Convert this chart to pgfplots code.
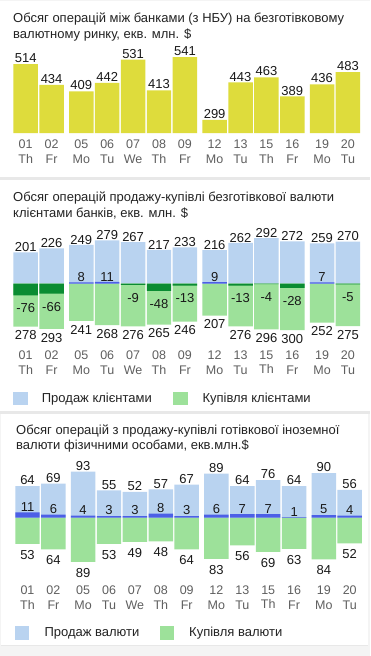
\documentclass[border=0pt]{standalone}
\usepackage{fontspec}
\setmainfont{Liberation Sans}
\usepackage{pgfplots}
\usepackage{pgfplotstable}
\pgfplotsset{compat=1.18}

\definecolor{bgcol}{RGB}{244,244,244}
\definecolor{sepcol}{RGB}{232,232,232}
\definecolor{ybar}{RGB}{222,220,60}
\definecolor{lblue}{RGB}{185,211,240}
\definecolor{lgreen}{RGB}{157,225,154}
\definecolor{dgreen}{RGB}{10,140,50}
\definecolor{dblue}{RGB}{76,95,230}
\definecolor{tickgray}{RGB}{95,95,95}
\definecolor{numcol}{RGB}{25,25,25}

\pgfplotstableread{
x v
0 514
1 434
2.147 409
3.147 442
4.147 531
5.147 413
6.147 541
7.294 299
8.294 443
9.294 463
10.294 389
11.441 436
12.441 483
}\tA

\pgfplotstableread{
x sell buy
0 201 278
1 226 293
2.147 249 241
3.147 279 268
4.147 267 276
5.147 217 265
6.147 233 246
7.294 216 207
8.294 262 276
9.294 292 296
10.294 272 300
11.441 259 252
12.441 270 275
}\tB

\pgfplotstableread{
x net
2.147 8
3.147 11
7.294 9
11.441 7
}\tBpos

\pgfplotstableread{
x net
0 -76
1 -66
4.147 -9
5.147 -48
6.147 -13
8.294 -13
9.294 -4
10.294 -28
12.441 -5
}\tBneg

\pgfplotstableread{
x sell buy net
0 64 53 11
1 69 64 6
2.147 93 89 4
3.147 55 53 3
4.147 52 49 3
5.147 57 48 8
6.147 67 64 3
7.294 89 83 6
8.294 64 56 7
9.294 76 69 7
10.294 64 63 1
11.441 90 84 5
12.441 56 52 4
}\tC

\pgfplotsset{
  panel/.style={
    x=25.9pt, xmin=-0.5, xmax=12.941,
    anchor=south west,
    axis line style={draw=none}, tick style={draw=none}, major tick length=0pt,
    ytick=\empty,
    xtick={0,1,2.147,3.147,4.147,5.147,6.147,7.294,8.294,9.294,10.294,11.441,12.441},
    xticklabels={{01\\Th},{02\\Fr},{05\\Mo},{06\\Tu},{07\\We},{08\\Th},{09\\Fr},{12\\Mo},{13\\Tu},{15\\Th},{16\\Fr},{19\\Mo},{20\\Tu}},
    xticklabel style={align=center, font=\fontsize{12.5}{14.5}\selectfont, text=tickgray, inner sep=0pt, anchor=north},
    /pgf/number format/assume math mode=true,
    every node near coord/.append style={font=\fontsize{13}{14}\selectfont, text=numcol},
  },
  up/.style={every node near coord/.append style={anchor=south, inner sep=#1}},
  down/.style={every node near coord/.append style={anchor=north, inner sep=0pt, yshift=-#1}},
}

\newcommand{\ttl}[1]{\fontsize{13}{16}\selectfont\color[RGB]{35,35,35}#1}
\newcommand{\lgd}[1]{\fontsize{13}{15}\selectfont\color[RGB]{35,35,35}#1}

\begin{document}
\begin{tikzpicture}
\begin{scope}[x=1pt,y=1pt]
\fill[bgcol] (0,0) rectangle (370,-656);
\fill[white] (0,-1) rectangle (370,-177);
\fill[sepcol] (0,-177) rectangle (370,-180);
\fill[white] (0,-180) rectangle (370,-411);
\fill[sepcol] (0,-411) rectangle (370,-414);
\fill[white] (1,-414) rectangle (368,-645);
\fill[sepcol] (1,-645) rectangle (368,-646);
% titles
\node[anchor=base west, inner sep=0pt] at (13,-22) {\ttl{Обсяг операцій між банками (з НБУ) на безготівковому}};
\node[anchor=base west, inner sep=0pt] at (13,-38) {\ttl{валютному ринку, екв. млн. \$}};
\node[anchor=base west, inner sep=0pt] at (13,-201.5) {\ttl{Обсяг операцій продажу-купівлі безготівкової валюти}};
\node[anchor=base west, inner sep=0pt] at (13,-217.5) {\ttl{клієнтами банків, екв. млн. \$}};
\node[anchor=base west, inner sep=0pt] at (16,-434.8) {\ttl{Обсяг операцій з продажу-купівлі готівкової іноземної}};
\node[anchor=base west, inner sep=0pt] at (16,-449.8) {\ttl{валюти фізичними особами, екв.млн.\$}};
% legends
\fill[lblue] (13.3,-391.7) rectangle (28.3,-405);
\node[anchor=base west, inner sep=0pt] at (41.7,-402.5) {\lgd{Продаж клієнтами}};
\fill[lgreen] (173.3,-391.7) rectangle (188.3,-405);
\node[anchor=base west, inner sep=0pt] at (202.3,-402.5) {\lgd{Купівля клієнтами}};
\fill[lblue] (15,-626) rectangle (29.3,-640);
\node[anchor=base west, inner sep=0pt] at (44.3,-636.5) {\lgd{Продаж валюти}};
\fill[lgreen] (160,-626) rectangle (174,-640);
\node[anchor=base west, inner sep=0pt] at (189,-636.5) {\lgd{Купівля валюти}};
\end{scope}

% Panel 1
\begin{axis}[panel, at={(12.75pt,-133pt)}, y=0.259pt, ymin=248, ymax=620,
  xticklabel style={yshift=-6.8pt}]
\addplot[ybar, bar shift=0pt, bar width=0.945, fill=ybar, draw=none,
  nodes near coords, point meta=explicit, up=1pt]
  table[x=x, y=v, meta=v] {\tA};
\end{axis}

% Panel 2
\begin{axis}[panel, at={(12.75pt,-333.1pt)}, y=0.155pt, ymin=-320, ymax=330, clip=false,
  xticklabel style={yshift=-17.5pt}]
\addplot[ybar, bar shift=0pt, bar width=0.945, fill=lblue, draw=none,
  nodes near coords, point meta=explicit, up=0.5pt]
  table[x=x, y=sell, meta=sell] {\tB};
\addplot[ybar, bar shift=0pt, bar width=0.945, fill=lgreen, draw=none,
  nodes near coords, point meta=explicit, down=4pt]
  table[x=x, y expr=-\thisrow{buy}, meta=buy] {\tB};
\addplot[ybar, bar shift=0pt, bar width=0.945, fill=dblue, draw=none,
  nodes near coords, point meta=explicit, up=0.5pt]
  table[x=x, y=net, meta=net] {\tBpos};
\addplot[ybar, bar shift=0pt, bar width=0.945, fill=dgreen, draw=none,
  nodes near coords, point meta=explicit, down=8pt]
  table[x=x, y=net, meta=net] {\tBneg};
\end{axis}

% Panel 3
\begin{axis}[panel, at={(14.55pt,-572.15pt)}, y=0.495pt, ymin=-110, ymax=110, clip=false,
  xticklabel style={yshift=-13.5pt}]
\addplot[ybar, bar shift=0pt, bar width=0.945, fill=lblue, draw=none,
  nodes near coords, point meta=explicit, up=1pt]
  table[x=x, y=sell, meta=sell] {\tC};
\addplot[ybar, bar shift=0pt, bar width=0.945, fill=lgreen, draw=none,
  nodes near coords, point meta=explicit, down=6pt]
  table[x=x, y expr=-\thisrow{buy}, meta=buy] {\tC};
\addplot[ybar, bar shift=0pt, bar width=0.945, fill=dblue, draw=none,
  nodes near coords, point meta=explicit, up=1pt]
  table[x=x, y=net, meta=net] {\tC};
\end{axis}
\end{tikzpicture}
\end{document}
